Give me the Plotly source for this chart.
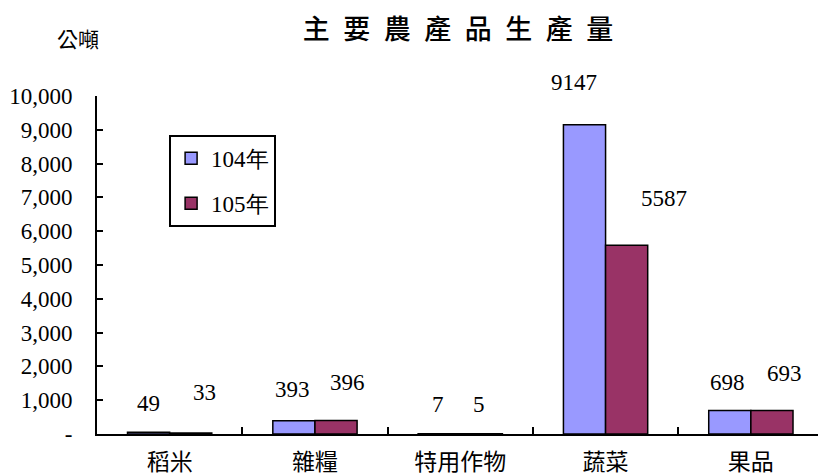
import plotly.graph_objects as go

# ---------------- 資料 ----------------
categories = ["稻米", "雜糧", "特用作物", "蔬菜", "果品"]
y104 = [49, 393, 7, 9147, 698]
y105 = [33, 396, 5, 5587, 693]
ytick_vals = [0, 1000, 2000, 3000, 4000, 5000, 6000, 7000, 8000, 9000, 10000]
ytick_text = ["-", "1,000", "2,000", "3,000", "4,000", "5,000", "6,000",
              "7,000", "8,000", "9,000", "10,000"]

# ---------------- 樣式 ----------------
C104 = "#9999FF"
C105 = "#993366"
FONT = "Times New Roman, DejaVu Serif, serif"
CJK = "Noto Sans CJK TC"
# 數值標籤相對柱頂的偏移(px)，仿原圖 Excel 標籤位置
off104 = [(0, 29), (-1, 31), (-1, 29), (-11, 42), (-2, 28)]
off105 = [(14, 40), (12, 38), (-2, 29), (37, 47), (13, 37)]
HALF = 21  # 半根柱寬(px)

fig = go.Figure()
fig.add_trace(go.Bar(x=categories, y=y104, name="104年", marker_color=C104,
                     marker_line=dict(color="black", width=1.5), legendgroup="a"))
fig.add_trace(go.Bar(x=categories, y=y105, name="105年", marker_color=C105,
                     marker_line=dict(color="black", width=1.5), legendgroup="b"))

ann = []
for cat, v, (dx, dy) in zip(categories, y104, off104):
    ann.append(dict(x=cat, y=v, xref="x", yref="y", text=str(v), showarrow=False,
                    xshift=-HALF + dx, yshift=dy, yanchor="middle",
                    font=dict(family=FONT, size=23, color="black")))
for cat, v, (dx, dy) in zip(categories, y105, off105):
    ann.append(dict(x=cat, y=v, xref="x", yref="y", text=str(v), showarrow=False,
                    xshift=HALF + dx, yshift=dy, yanchor="middle",
                    font=dict(family=FONT, size=23, color="black")))
ann.append(dict(x=(78 - 97) / 721, y=(434 - 38) / 338, xref="paper", yref="paper",
                text="公噸", showarrow=False, xanchor="center", yanchor="middle",
                font=dict(family=CJK, size=21, color="black")))

title = "\u2002".join("主要農產品生產量")
fig.update_layout(
    width=818, height=476,
    margin=dict(l=97, r=0, t=96, b=42),
    paper_bgcolor="white", plot_bgcolor="white",
    barmode="group", bargap=0.42, bargroupgap=0,
    font=dict(family=FONT, size=23, color="black"),
    annotations=ann,
    title=dict(text=title, x=458 / 818, xanchor="center", y=1 - 30 / 476, yanchor="middle",
               font=dict(family=CJK, size=27, color="black", weight=500)),
    legend=dict(x=0.1, y=0.885, xanchor="left", yanchor="top",
                bgcolor="white", bordercolor="black", borderwidth=2,
                font=dict(family=FONT, size=23), tracegroupgap=12,
                traceorder="grouped"),
    showlegend=True,
)

fig.update_xaxes(range=[-0.5, 4.462], showline=True, linecolor="black", linewidth=2,
                 ticks="inside", tickson="boundaries", ticklen=7, tickwidth=2,
                 tickcolor="black", ticklabelstandoff=6,
                 tickfont=dict(family=CJK, size=23))
fig.update_yaxes(range=[0, 10000], tickvals=ytick_vals, ticktext=ytick_text,
                 showline=True, linecolor="black", linewidth=2, showgrid=False,
                 zeroline=False, ticks="inside", ticklen=6, tickwidth=2,
                 tickcolor="black", ticklabelstandoff=18)

fig.write_html("out.html", config={"displayModeBar": False},
               post_script="document.body.style.margin='0';")
